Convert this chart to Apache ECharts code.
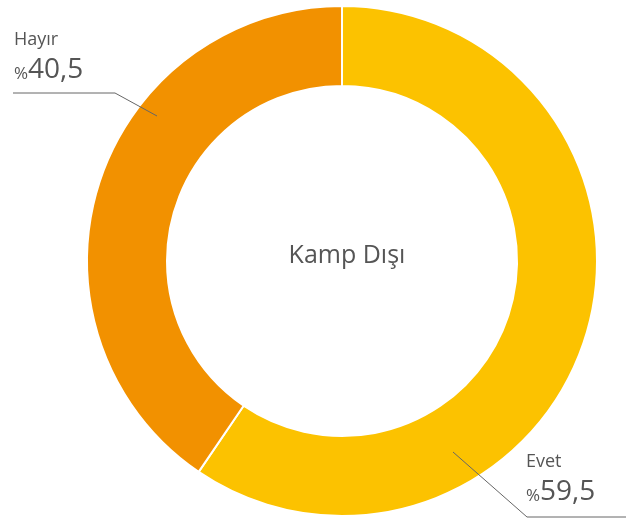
<!DOCTYPE html>
<html>
<head>
<meta charset="utf-8">
<script src="https://cdn.jsdelivr.net/npm/echarts@6/dist/echarts.min.js"></script>
<style>html,body{margin:0;padding:0;background:#fff}#c{width:626px;height:520px}</style>
</head>
<body>
<div id="c"></div>
<script>
const categories = ['Evet', 'Hayır'];
const values = [59.5, 40.5];
const valueLabels = ['59,5', '40,5'];
const colors = ['#FCC200', '#F29100'];
const centerTitle = 'Kamp Dışı';

const chart = echarts.init(document.getElementById('c'), null, {renderer: 'canvas'});
const FONT = '"Open Sans", sans-serif';
const labelPos = [
  {x: 526, y: 449, line: [[453, 452], [527, 517], [626, 517]]},
  {x: 14, y: 27, line: [[157, 116], [115, 93], [13, 93]]}
];
const pieData = categories.map((c, i) => ({name: c, value: values[i], itemStyle: {color: colors[i]}}));
chart.setOption({
  animation: false,
  title: {
    text: centerTitle,
    left: 342, top: 238, textAlign: 'center',
    textStyle: {fontFamily: FONT, fontSize: 25, fontWeight: 'normal', color: '#555'}
  },
  series: [{
    type: 'pie',
    z: 2,
    center: [342, 261],
    radius: [175, 255],
    startAngle: 90,
    clockwise: true,
    silent: true,
    itemStyle: {borderColor: '#fff', borderWidth: 2},
    label: {show: false},
    labelLine: {show: false},
    data: pieData
  }, {
    type: 'pie',
    z: 5,
    center: [342, 261],
    radius: [175, 255],
    startAngle: 90,
    clockwise: true,
    silent: true,
    itemStyle: {color: 'rgba(0,0,0,0)', borderWidth: 0},
    label: {
      show: true,
      position: 'outside',
      overflow: 'none',
      formatter: p => '{n|' + p.name + '}\n{p|%}{v|' + valueLabels[p.dataIndex] + '}',
      rich: {
        n: {fontFamily: FONT, fontSize: 18, lineHeight: 26, color: '#555'},
        p: {fontFamily: FONT, fontSize: 17, lineHeight: 34, color: '#555', verticalAlign: 'bottom', padding: [0, 0, 4, 0]},
        v: {fontFamily: FONT, fontSize: 28, lineHeight: 34, color: '#555'}
      }
    },
    labelLine: {show: true, lineStyle: {color: '#666', width: 1}},
    labelLayout: function (params) {
      const lp = labelPos[params.dataIndex];
      return {x: lp.x, y: lp.y, align: 'left', verticalAlign: 'top', hideOverlap: false, moveOverlap: false, labelLinePoints: lp.line};
    },
    data: categories.map((c, i) => ({name: c, value: values[i]}))
  }]
});
</script>
</body>
</html>
